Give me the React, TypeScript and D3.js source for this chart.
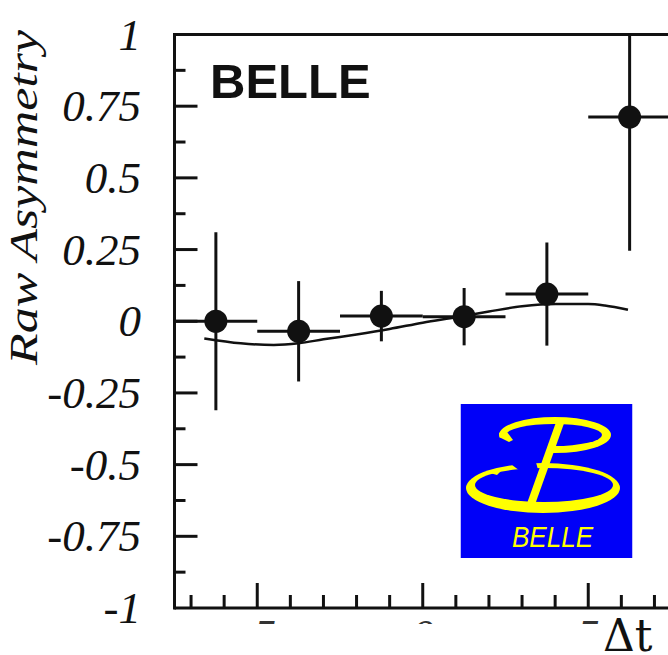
import React from "react";
import * as d3 from "d3";

// ---- data ----
const binCenters = [-6.25, -3.75, -1.25, 1.25, 3.75, 6.25];
const binHalfWidths = [1.25, 1.25, 1.25, 1.25, 1.25, 1.25];
const asymmetry = [0.0, -0.035, 0.018, 0.016, 0.095, 0.712];
const errLow = [0.31, 0.175, 0.088, 0.1, 0.18, 0.466];
const errHigh = [0.31, 0.175, 0.088, 0.1, 0.18, 0.466];

const fitT = [-6.6, -5.5, -4.5, -3.75, -3, -2, -1, 0, 1, 2, 3, 4, 5, 5.5, 6.2];
const fitA = [-0.06, -0.077, -0.083, -0.077, -0.063, -0.046, -0.027, -0.005, 0.014, 0.034, 0.052, 0.06, 0.06, 0.055, 0.04];

const yTickValues = [1, 0.75, 0.5, 0.25, 0, -0.25, -0.5, -0.75, -1];
const yTickLabels = ["1", "0.75", "0.5", "0.25", "0", "-0.25", "-0.5", "-0.75", "-1"];
const xTickValues = [-5, 0, 5];
const xTickLabels = ["-5", "0", "5"];

const yTitle = "Raw Asymmetry";
const xTitle = "\u0394t";
const expLabel = "BELLE";

export default function App() {
  const W = 668, H = 655;
  const x = d3.scaleLinear().domain([-7.5, 7.5]).range([174.5, 671]);
  const y = d3.scaleLinear().domain([-1, 1]).range([608, 34.5]);
  const [x0, x1] = x.range();
  const [yb, yt] = y.range();

  const yMinor = d3.range(-1, 1.0001, 0.125).filter((v) => Math.abs(v * 4 - Math.round(v * 4)) > 1e-6);
  const yMajor = d3.range(-0.75, 0.7501, 0.25);
  const xMinor = d3.range(-7, 7.0001, 1).filter((v) => !xTickValues.includes(v));

  const line = d3
    .line<number>()
    .x((_, i) => x(fitT[i]))
    .y((d) => y(d))
    .curve(d3.curveMonotoneX);

  const serif = "'Liberation Serif', 'Times New Roman', serif";
  const ink = "#111";

  // logo geometry
  const L = { x: 460.5, y: 404, w: 172, h: 154 };
  const yellow = "#ffff00";
  const blue = "#0000f8";
  const lc = { cx: 543, cy: 488 };
  const uc = { cx: 555, cy: 435 };

  return (
    <svg width={W} height={H} style={{ position: "absolute", left: 0, top: 0, background: "#fff" }}>
      <defs>
        <clipPath id="plot">
          <rect x={x0} y={yt} width={x1 - x0} height={yb - yt} />
        </clipPath>
        <clipPath id="xlab">
          <rect x={0} y={612} width={W} height={12} />
        </clipPath>
        <clipPath id="logo">
          <rect x={L.x} y={L.y} width={L.w} height={L.h} />
        </clipPath>
      </defs>

      {/* y title */}
      <text
        transform={`translate(37,197.5) rotate(-90)`}
        textAnchor="middle"
        fontFamily={serif}
        fontStyle="italic"
        fontSize={41}
        textLength={335}
        lengthAdjust="spacingAndGlyphs"
        fill={ink}
      >
        {yTitle}
      </text>

      {/* y tick labels */}
      {yTickValues.map((v, i) => (
        <text
          key={"yl" + i}
          x={141}
          y={y(v) + 15}
          textAnchor="end"
          fontFamily={serif}
          fontStyle="italic"
          fontSize={45}
          fill={ink}
        >
          {yTickLabels[i]}
        </text>
      ))}

      {/* x tick labels (cut off at the bottom) */}
      <g clipPath="url(#xlab)">
        {xTickValues.map((v, i) => (
          <text
            key={"xl" + i}
            x={x(v)}
            y={650}
            textAnchor="middle"
            fontFamily={serif}
            fontStyle="italic"
            fontSize={45}
            fill="#333"
          >
            {xTickLabels[i]}
          </text>
        ))}
      </g>

      {/* x title */}
      <text x={603} y={651} fontFamily="'DejaVu Serif', serif" fontSize={44} fill={ink}>
        {xTitle}
      </text>

      {/* frame */}
      <g stroke={ink} strokeWidth={3} fill="none">
        <line x1={x0} y1={yt} x2={x1} y2={yt} />
        <line x1={x0} y1={yt - 1.5} x2={x0} y2={yb + 1.5} />
        <line x1={x0} y1={yb} x2={x1} y2={yb} />
      </g>

      {/* y ticks */}
      <g stroke={ink} strokeWidth={3}>
        {yMajor.map((v, i) => (
          <line key={"ym" + i} x1={x0} x2={x0 + 23} y1={y(v)} y2={y(v)} />
        ))}
        {yMinor.map((v, i) => (
          <line key={"yn" + i} x1={x0} x2={x0 + 11} y1={y(v)} y2={y(v)} />
        ))}
        {xTickValues.map((v, i) => (
          <line key={"xm" + i} x1={x(v)} x2={x(v)} y1={yb} y2={yb - 25} />
        ))}
        {xMinor.map((v, i) => (
          <line key={"xn" + i} x1={x(v)} x2={x(v)} y1={yb} y2={yb - 13} />
        ))}
      </g>

      {/* BELLE label */}
      <text
        x={210}
        y={98}
        fontFamily="'Liberation Sans', Arial, sans-serif"
        fontWeight="bold"
        fontSize={49}
        fill={ink}
      >
        {expLabel}
      </text>

      {/* data */}
      <g clipPath="url(#plot)">
        <path d={line(fitA) || ""} fill="none" stroke={ink} strokeWidth={2.5} />
        {binCenters.map((c, i) => (
          <g key={"p" + i} stroke={ink} strokeWidth={3}>
            <line x1={x(c - binHalfWidths[i])} x2={x(c + binHalfWidths[i])} y1={y(asymmetry[i])} y2={y(asymmetry[i])} />
            <line x1={x(c)} x2={x(c)} y1={y(asymmetry[i] - errLow[i])} y2={y(asymmetry[i] + errHigh[i])} />
            <circle cx={x(c)} cy={y(asymmetry[i])} r={11.5} fill={ink} stroke="none" />
          </g>
        ))}
      </g>

      {/* Belle logo */}
      <g clipPath="url(#logo)">
        <rect x={L.x} y={L.y} width={L.w} height={L.h} fill={blue} />
        {/* lower bowl */}
        <ellipse cx={lc.cx} cy={lc.cy} rx={77} ry={25} fill={yellow} />
        <ellipse cx={lc.cx + 1} cy={lc.cy - 3} rx={69} ry={17} fill={blue} />
        <polygon
          points={[
            [lc.cx, lc.cy],
            [lc.cx + 60 * Math.cos((236 * Math.PI) / 180) * 1.6, lc.cy + 30 * Math.sin((236 * Math.PI) / 180) * 1.6],
            [lc.cx + 80 * Math.cos((263 * Math.PI) / 180) * 1.0, lc.cy + 30 * Math.sin((263 * Math.PI) / 180) * 1.2],
          ]
            .map((p) => p.join(","))
            .join(" ")}
          fill={blue}
        />
        {/* upper bowl */}
        <ellipse cx={uc.cx} cy={uc.cy} rx={56} ry={18} fill={yellow} />
        <ellipse cx={uc.cx - 1} cy={uc.cy} rx={48} ry={11} fill={blue} />
        <polygon
          points={[
            [uc.cx - 3, uc.cy + 2],
            [uc.cx - 70, uc.cy + 3],
            [uc.cx - 60, uc.cy + 24],
            [uc.cx - 3, uc.cy + 24],
          ]
            .map((p) => p.join(","))
            .join(" ")}
          fill={blue}
        />
        {/* hooks */}
        <polygon points="499,433 507,432 513,440 509,442 501,438" fill={yellow} />
        <polygon points="490,473 498,469 503,469 497,475" fill={yellow} />
        {/* diagonal stroke */}
        <line x1={561} y1={420} x2={531} y2={504} stroke={yellow} strokeWidth={8} />
        <text
          x={512}
          y={547}
          fontFamily="'Liberation Sans', Arial, sans-serif"
          fontStyle="italic"
          fontSize={29}
          textLength={81}
          lengthAdjust="spacingAndGlyphs"
          fill={yellow}
        >
          {expLabel}
        </text>
      </g>
    </svg>
  );
}
